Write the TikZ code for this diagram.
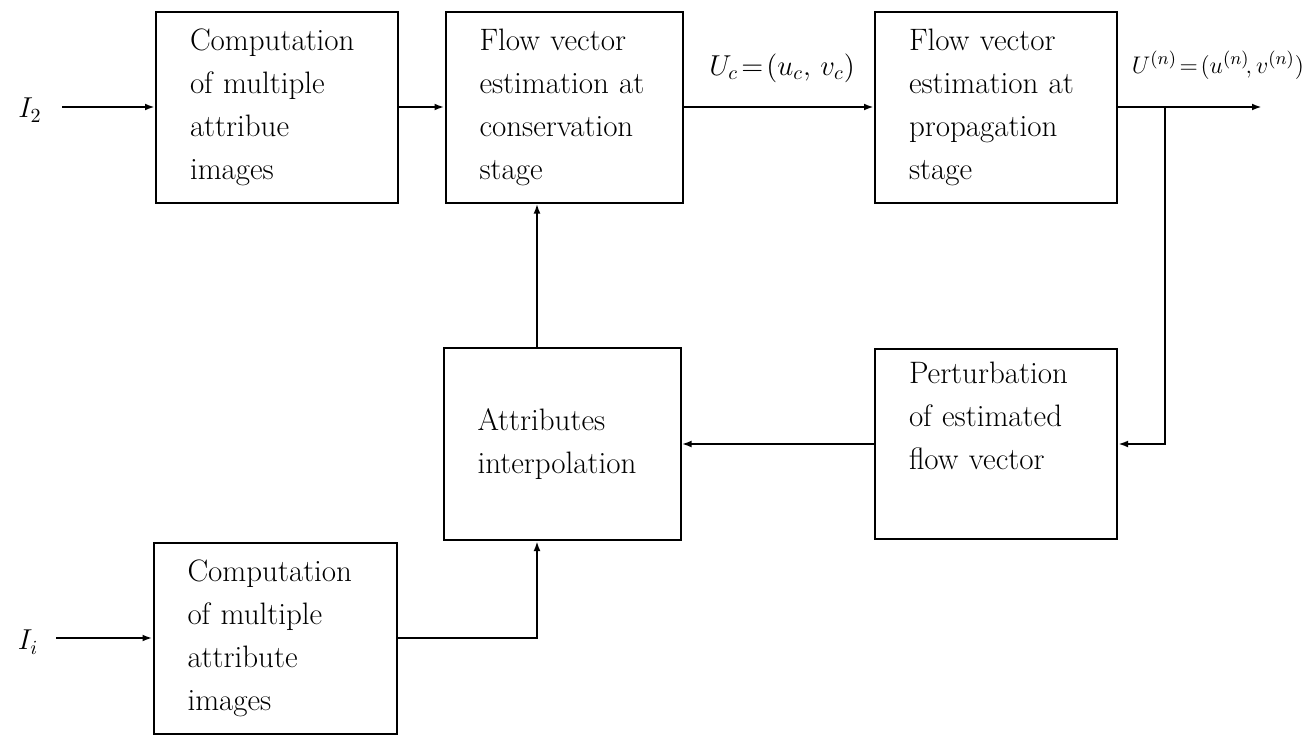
\documentclass[tikz,border=0pt]{standalone}
\usetikzlibrary{arrows.meta}
\begin{document}
\begin{tikzpicture}[x=0.5pt,y=-0.5pt,
  blk/.style={draw, line width=1pt, align=left, inner xsep=17pt, inner ysep=0pt,
              font=\fontsize{15.5}{21.5}\selectfont},
  arr/.style={line width=1pt, -{Latex[length=5pt,width=3.4pt]}},
  lbl/.style={font=\fontsize{14.5}{16}\selectfont, inner sep=0pt}]
\useasboundingbox (0,0) rectangle (1311,734);

\node[blk, minimum width=121pt, minimum height=95.5pt, text width=87pt] (b1) at (277,107)
  {Computation\\of multiple\\attribue\\images};
\node[blk, minimum width=118.5pt, minimum height=95.5pt, text width=84.5pt] (b2) at (564,107)
  {Flow vector\\estimation at\\conservation\\stage};
\node[blk, minimum width=121pt, minimum height=95.5pt, text width=87pt] (b3) at (996,107)
  {Flow vector\\estimation at\\propagation\\stage};
\node[blk, minimum width=118.5pt, minimum height=96pt, text width=84.5pt] (b4) at (562,444)
  {Attributes\\interpolation};
\node[blk, minimum width=121pt, minimum height=95pt, text width=87pt] (b5) at (996,444)
  {Perturbation\\of estimated\\flow vector\\\strut};
\node[blk, minimum width=121.5pt, minimum height=95.5pt, text width=87.5pt] (b6) at (275,638)
  {Computation\\of multiple\\attribute\\images};

\node[lbl] (l2) at (30,110) {$I_2$};
\node[lbl] (li) at (28,642) {$I_i$};
\node[lbl] (luc) at (782,68) {$U_c\!=\!(u_c,\,v_c)$};
\node[lbl, font=\fontsize{13}{15}\selectfont] (lun) at (1218,65) {$U^{(n)}\!=\!(u^{(n)}\!,v^{(n)})$};

\coordinate (i2) at (62,107);
\coordinate (ii) at (56,638);
\coordinate (out) at (1262,107);
\coordinate (fb) at (1165,107);
\coordinate (vx) at (537,0);

\draw[arr] (i2) -- (b1.west);
\draw[arr] (b1.east) -- (b2.west);
\draw[arr] (b2.east) -- (b3.west);
\draw[arr] (b3.east) -- (out);
\draw[arr] (fb) |- (b5.east);
\draw[arr] (b5.west) -- (b4.east);
\draw[arr] (b4.north -| vx) -- (b2.south -| vx);
\draw[arr] (b6.east) -| (b4.south -| vx);
\draw[arr] (ii) -- (b6.west);
\end{tikzpicture}
\end{document}
